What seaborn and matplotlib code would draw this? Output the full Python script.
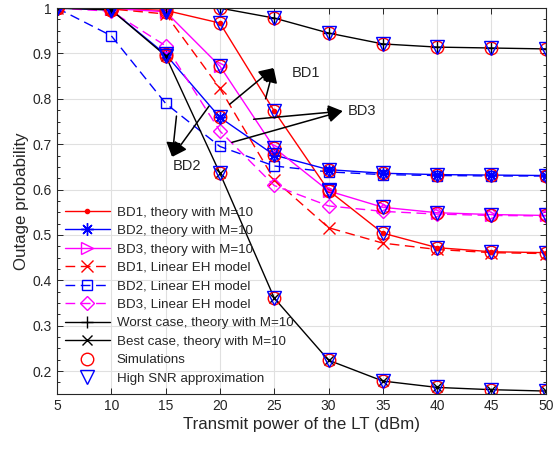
import numpy as np
import pandas as pd
import matplotlib
matplotlib.use("Agg")
import matplotlib.pyplot as plt
from matplotlib.ticker import MultipleLocator, FuncFormatter
import seaborn as sns

# ---------------- data ----------------
power_dbm = [5, 10, 15, 20, 25, 30, 35, 40, 45, 50]
bd1_theory = [1.0, 0.999, 0.995, 0.967, 0.773, 0.598, 0.504, 0.472, 0.463, 0.461]
bd2_theory = [1.0, 0.996, 0.898, 0.759, 0.676, 0.644, 0.636, 0.633, 0.632, 0.631]
bd3_theory = [1.0, 0.999, 0.992, 0.872, 0.692, 0.597, 0.561, 0.549, 0.545, 0.543]
bd1_linear = [1.0, 0.998, 0.987, 0.823, 0.622, 0.516, 0.482, 0.468, 0.461, 0.459]
bd2_linear = [1.0, 0.939, 0.790, 0.695, 0.652, 0.639, 0.633, 0.631, 0.630, 0.630]
bd3_linear = [1.0, 0.993, 0.917, 0.729, 0.609, 0.564, 0.552, 0.546, 0.543, 0.542]
worst_case = [1.0, 1.0, 1.0, 1.0, 0.978, 0.945, 0.921, 0.914, 0.912, 0.910]
best_case = [1.0, 0.996, 0.895, 0.636, 0.361, 0.224, 0.178, 0.164, 0.159, 0.156]

labels = ["BD1, theory with M=10", "BD2, theory with M=10", "BD3, theory with M=10",
          "BD1, Linear EH model", "BD2, Linear EH model", "BD3, Linear EH model",
          "Worst case, theory with M=10", "Best case, theory with M=10",
          "Simulations", "High SNR approximation"]
x_ticks = [5, 10, 15, 20, 25, 30, 35, 40, 45, 50]
y_ticks = [0.2, 0.3, 0.4, 0.5, 0.6, 0.7, 0.8, 0.9, 1.0]

# ---------------- style ----------------
sns.set_style("ticks")
plt.rcParams["font.family"] = ["Liberation Sans", "DejaVu Sans"]
txt = "#262626"

fig = plt.figure(figsize=(5.53, 4.49), dpi=100)
ax = fig.add_axes([0.103, 0.123, 0.884, 0.859])

RED, BLUE, MAG, BLK = "#ff0000", "#0000ff", "#ff00ff", "#000000"
DASH = (7, 4)

series = [
    (bd1_theory, RED, ".", "-", 6, labels[0]),
    (bd2_theory, BLUE, (8, 2, 0), "-", 9, labels[1]),
    (bd3_theory, MAG, ">", "-", 8, labels[2]),
    (bd1_linear, RED, "x", "--", 8, labels[3]),
    (bd2_linear, BLUE, "s", "--", 7.5, labels[4]),
    (bd3_linear, MAG, "D", "--", 7, labels[5]),
    (worst_case, BLK, "+", "-", 9, labels[6]),
    (best_case, BLK, "x", "-", 7, labels[7]),
]

handles = []
for vals, col, mk, ls, ms, lab in series:
    df = pd.DataFrame({"x": power_dbm, "y": vals})
    sns.lineplot(data=df, x="x", y="y", ax=ax, color=col, marker=mk,
                 markersize=ms, markerfacecolor="none", markeredgecolor=col,
                 markeredgewidth=1.0, linewidth=1.0, linestyle=ls)
    ln = ax.lines[-1]
    if ls == "--":
        ln.set_dashes(DASH)
    if mk == ".":
        ln.set_markerfacecolor(col)
    handles.append(ln)

theory_sets = [bd1_theory, bd2_theory, bd3_theory, worst_case, best_case]
sim_handle = None
snr_handle = None
for vals in theory_sets:
    df = pd.DataFrame({"x": power_dbm, "y": vals})
    sns.lineplot(data=df, x="x", y="y", ax=ax, color=RED, marker="o",
                 markersize=9, markerfacecolor="none", markeredgecolor=RED,
                 markeredgewidth=1.0, linestyle="none")
    sim_handle = ax.lines[-1]
for vals in theory_sets:
    df = pd.DataFrame({"x": power_dbm, "y": vals})
    sns.lineplot(data=df, x="x", y="y", ax=ax, color=BLUE, marker="v",
                 markersize=10, markerfacecolor="none", markeredgecolor=BLUE,
                 markeredgewidth=1.0, linestyle="none")
    snr_handle = ax.lines[-1]
handles += [sim_handle, snr_handle]

# ---------------- axes ----------------
ax.set_xlim(5, 50)
ax.set_ylim(0.15, 1.0)
ax.set_xticks(x_ticks)
ax.set_yticks(y_ticks)
ax.yaxis.set_major_formatter(FuncFormatter(lambda v, p: "%g" % v))
ax.yaxis.set_minor_locator(MultipleLocator(0.025))
ax.grid(True, which="major", color="#e0e0e0", linewidth=0.8)
ax.set_axisbelow(True)
ax.tick_params(axis="both", which="both", direction="in", top=True, right=True,
               colors=txt, labelsize=10, width=0.7)
ax.tick_params(axis="both", which="major", length=4)
ax.tick_params(axis="y", which="minor", length=2.5)
for s in ax.spines.values():
    s.set_color(txt)
    s.set_linewidth(0.8)
ax.set_xlabel("Transmit power of the LT (dBm)", fontsize=12.2, color=txt, labelpad=3)
ax.set_ylabel("Outage probability", fontsize=12.2, color=txt, labelpad=3)

leg = ax.legend(handles, labels, loc="upper left", bbox_to_anchor=(0.005, 0.5),
                frameon=False, fontsize=9.6, handlelength=3.4, handletextpad=0.5,
                labelspacing=0.46, borderaxespad=0.2, borderpad=0.2)
for t in leg.get_texts():
    t.set_color(txt)

# ---------------- annotations ----------------
ap = dict(arrowstyle="-|>,head_length=0.55,head_width=0.28", color="k",
          lw=1.1, mutation_scale=16, shrinkA=0, shrinkB=0)
ax.annotate("", xy=(24.95, 0.868), xytext=(20.9, 0.788), arrowprops=ap)
ax.annotate("", xy=(24.95, 0.868), xytext=(24.2, 0.80), arrowprops=ap)
ax.text(26.6, 0.857, "BD1", fontsize=10.5, color=txt, va="center", ha="left")
ax.annotate("", xy=(31.3, 0.773), xytext=(23.1, 0.755), arrowprops=ap)
ax.annotate("", xy=(31.3, 0.773), xytext=(21.1, 0.704), arrowprops=ap)
ax.text(31.8, 0.773, "BD3", fontsize=10.5, color=txt, va="center", ha="left")
ax.annotate("", xy=(15.6, 0.672), xytext=(16.0, 0.762), arrowprops=ap)
ax.annotate("", xy=(15.6, 0.672), xytext=(19.0, 0.784), arrowprops=ap)
ax.text(17.0, 0.652, "BD2", fontsize=10.5, color=txt, va="center", ha="center")

fig.savefig("out.png", dpi=100)
